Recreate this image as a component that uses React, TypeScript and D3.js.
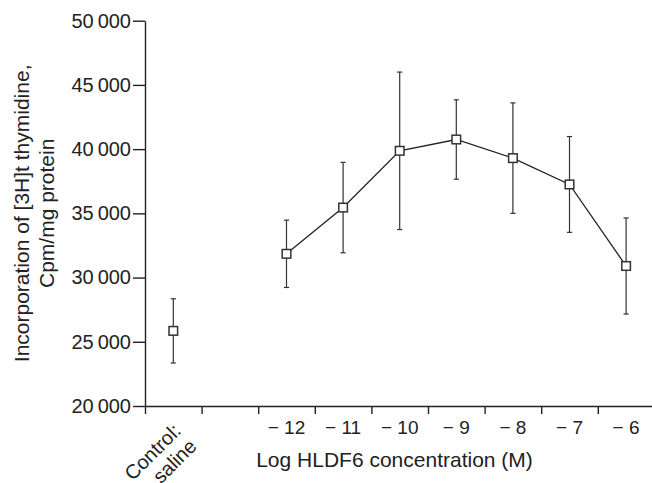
import React, { useEffect, useRef } from "react";
import * as d3 from "d3";

// categories along the x axis (second slot is an empty gap)
const categories = ["control", "gap", "-12", "-11", "-10", "-9", "-8", "-7", "-6"];
const doseLabels = ["\u2212 12", "\u2212 11", "\u2212 10", "\u2212 9", "\u2212 8", "\u2212 7", "\u2212 6"];
const doses = ["-12", "-11", "-10", "-9", "-8", "-7", "-6"];
const doseMeans = [31850, 35450, 39870, 40750, 39300, 37250, 30900];
const doseErrors = [2620, 3520, 6130, 3090, 4300, 3730, 3740];
const controlMean = 25850;
const controlError = 2500;
const yTicks = [20000, 25000, 30000, 35000, 40000, 45000, 50000];

const FONT = "'Liberation Sans', Arial, Helvetica, sans-serif";
const INK = "#222";

const App = () => {
  const svgRef = useRef(null);

  useEffect(() => {
    const svg = d3.select(svgRef.current);
    svg.selectAll("*").remove();

    const width = 652;
    const x0 = 145;
    const bandW = 56.6;

    const x = d3
      .scaleBand()
      .domain(categories)
      .range([x0, x0 + bandW * categories.length])
      .paddingInner(0)
      .paddingOuter(0);
    const xEdge = d3
      .scaleLinear()
      .domain([0, categories.length])
      .range([x0, x0 + bandW * categories.length]);
    const y = d3.scaleLinear().domain([20000, 50000]).range([406, 20.7]);
    const cx = (c) => x(c) + x.bandwidth() / 2;

    // y axis
    const yAxis = d3
      .axisLeft(y)
      .tickValues(yTicks)
      .tickSize(12)
      .tickSizeOuter(0)
      .tickPadding(2)
      .tickFormat((d) => d3.format(",")(d).replace(",", "\u2009"));
    const gy = svg.append("g").attr("transform", `translate(${x0},0)`).call(yAxis);
    gy.select(".domain").attr("stroke", INK).attr("stroke-width", 1.4);
    gy.selectAll(".tick line").attr("stroke", INK).attr("stroke-width", 1.4);
    gy.selectAll(".tick text")
      .attr("fill", INK)
      .style("font-family", FONT)
      .style("font-size", "20px");

    // x axis: ticks at category boundaries
    const xAxis = d3
      .axisBottom(xEdge)
      .tickValues(d3.range(0, categories.length))
      .tickSize(8)
      .tickSizeOuter(0)
      .tickFormat(() => "");
    const gx = svg.append("g").attr("transform", `translate(0,${y(20000)})`).call(xAxis);
    gx.select(".domain").attr("stroke", INK).attr("stroke-width", 1.4);
    gx.selectAll(".tick line").attr("stroke", INK).attr("stroke-width", 1.4);

    // dose tick labels
    svg
      .append("g")
      .selectAll("text")
      .data(doses)
      .join("text")
      .attr("x", (d) => cx(d))
      .attr("y", 434)
      .attr("text-anchor", "middle")
      .attr("fill", INK)
      .style("font-family", FONT)
      .style("font-size", "19px")
      .text((d, i) => doseLabels[i]);

    // control label, slanted
    const ctl = svg
      .append("text")
      .attr("transform", `translate(${cx("control") + 9},432) rotate(-45)`)
      .attr("text-anchor", "end")
      .attr("fill", INK)
      .style("font-family", FONT)
      .style("font-size", "20px");
    ctl.append("tspan").attr("x", 0).attr("dy", 0).text("Control:");
    ctl.append("tspan").attr("x", 0).attr("dy", 22).text("saline");

    // axis titles
    svg
      .append("text")
      .attr("x", x0 + (width - x0) / 2 - 4)
      .attr("y", 467)
      .attr("text-anchor", "middle")
      .attr("fill", INK)
      .style("font-family", FONT)
      .style("font-size", "21px")
      .text("Log HLDF6 concentration (M)");

    const yt = svg
      .append("text")
      .attr("transform", `translate(28.5,${(y(20000) + y(50000)) / 2}) rotate(-90)`)
      .attr("text-anchor", "middle")
      .attr("fill", INK)
      .style("font-family", FONT)
      .style("font-size", "21px");
    yt.append("tspan").attr("x", 0).attr("dy", 0).text("Incorporation of [3H]t thymidine,");
    yt.append("tspan").attr("x", 0).attr("dy", 25).text("Cpm/mg protein");

    // points with error bars
    const points = [
      { c: "control", m: controlMean, e: controlError },
      ...doses.map((d, i) => ({ c: d, m: doseMeans[i], e: doseErrors[i] })),
    ];
    const cap = 2.6;
    const eb = svg.append("g").attr("stroke", "#333").attr("stroke-width", 1.2);
    points.forEach((p) => {
      const px = cx(p.c);
      eb.append("line").attr("x1", px).attr("x2", px).attr("y1", y(p.m - p.e)).attr("y2", y(p.m + p.e));
      eb.append("line").attr("x1", px - cap).attr("x2", px + cap).attr("y1", y(p.m + p.e)).attr("y2", y(p.m + p.e));
      eb.append("line").attr("x1", px - cap).attr("x2", px + cap).attr("y1", y(p.m - p.e)).attr("y2", y(p.m - p.e));
    });

    // connecting line for doses
    const line = d3
      .line()
      .x((d, i) => cx(doses[i]))
      .y((d) => y(d));
    svg
      .append("path")
      .datum(doseMeans)
      .attr("fill", "none")
      .attr("stroke", INK)
      .attr("stroke-width", 1.3)
      .attr("d", line);

    const s = 8.6;
    svg
      .append("g")
      .selectAll("rect")
      .data(points)
      .join("rect")
      .attr("x", (d) => cx(d.c) - s / 2)
      .attr("y", (d) => y(d.m) - s / 2)
      .attr("width", s)
      .attr("height", s)
      .attr("fill", "white")
      .attr("stroke", "#333")
      .attr("stroke-width", 1.5);
  }, []);

  return (
    <svg
      ref={svgRef}
      width={652}
      height={483}
      style={{ position: "absolute", left: 0, top: 0, background: "white" }}
    />
  );
};

export default App;
